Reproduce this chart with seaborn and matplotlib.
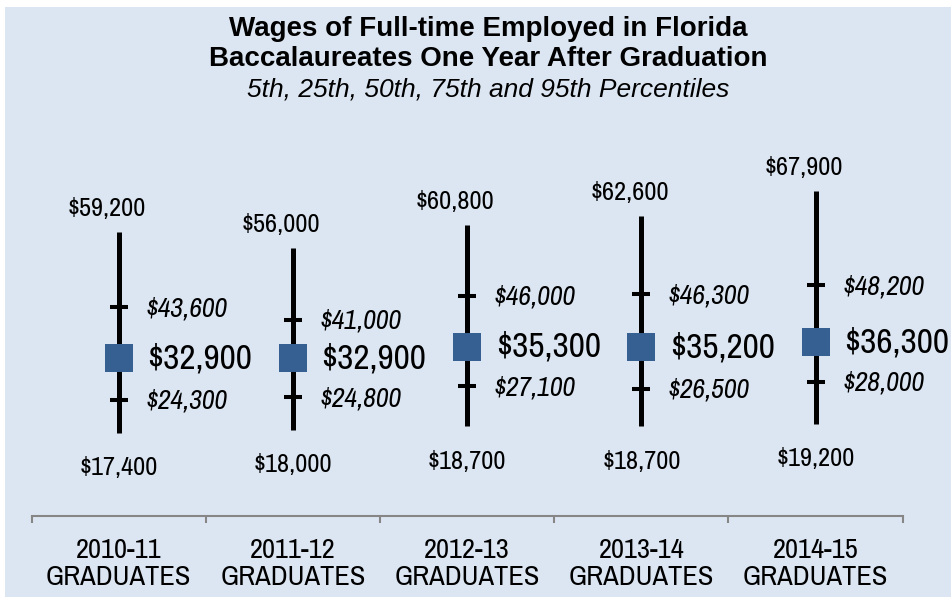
import pandas as pd
import seaborn as sns
import matplotlib.pyplot as plt
from matplotlib.patches import Rectangle

# wage percentiles by graduating cohort
cohorts = ["2010-11\nGRADUATES", "2011-12\nGRADUATES", "2012-13\nGRADUATES",
           "2013-14\nGRADUATES", "2014-15\nGRADUATES"]
p5 = [17400, 18000, 18700, 18700, 19200]
p25 = [24300, 24800, 27100, 26500, 28000]
p50 = [32900, 32900, 35300, 35200, 36300]
p75 = [43600, 41000, 46000, 46300, 48200]
p95 = [59200, 56000, 60800, 62600, 67900]

df = pd.DataFrame({"cohort": cohorts, "p5": p5, "p25": p25, "p50": p50,
                   "p75": p75, "p95": p95})

BG = "#dce6f2"
SQUARE = "#376092"
NARROW = ["Archivo Narrow", "PT Sans Narrow", "Liberation Sans"]

sns.set_theme(style="white")
plt.rcParams["font.family"] = ["Liberation Sans", "DejaVu Sans"]
plt.rcParams["text.color"] = "black"
plt.rcParams["xtick.color"] = "black"

fig = plt.figure(figsize=(9.51, 5.97), dpi=100, facecolor="white")
fig.patches.append(Rectangle((5 / 951, 0), 1, 1 - 7 / 597, transform=fig.transFigure,
                             facecolor=BG, edgecolor="none", zorder=-10))
ax = fig.add_axes([31.7 / 951, 81 / 597, 871 / 951, 479 / 597])
ax.set_facecolor("none")

pos = list(range(len(cohorts)))
# 5th-95th range as a thick line, quartile caps, median square
ax.vlines(pos, df["p5"], df["p95"], color="black", linewidth=3.6, zorder=2)
sns.scatterplot(data=df, x=pos, y="p75", marker="_", s=150, color="black",
                linewidth=2.9, ax=ax, zorder=3)
sns.scatterplot(data=df, x=pos, y="p25", marker="_", s=150, color="black",
                linewidth=2.9, ax=ax, zorder=3)
sns.scatterplot(data=df, x=pos, y="p50", marker="s", s=380, color=SQUARE,
                linewidth=0, ax=ax, zorder=4)

for i, r in df.iterrows():
    ax.annotate(f"${r.p95:,}", (i, r.p95), xytext=(-8.6, 17), textcoords="offset points",
                ha="center", va="center", fontsize=19, family=NARROW)
    ax.annotate(f"${r.p5:,}", (i, r.p5), xytext=(0, -25), textcoords="offset points",
                ha="center", va="center", fontsize=19, family=NARROW)
    ax.annotate(f"${r.p75:,}", (i, r.p75), xytext=(19, -1), textcoords="offset points",
                ha="left", va="center", fontsize=20, style="italic", family=NARROW)
    ax.annotate(f"${r.p25:,}", (i, r.p25), xytext=(19, -1), textcoords="offset points",
                ha="left", va="center", fontsize=20, style="italic", family=NARROW)
    ax.annotate(f"${r.p50:,}", (i, r.p50), xytext=(20.5, 0), textcoords="offset points",
                ha="left", va="center", fontsize=25.5, family=NARROW)

ax.set_xlim(-0.5, len(cohorts) - 0.5)
ax.set_ylim(0, 100000)
ax.set_yticks([])
ax.set_xticks(pos)
ax.set_xticklabels(cohorts, fontsize=20.5, family=NARROW, linespacing=1.1)
ax.set_xticks([p - 0.5 for p in range(len(cohorts) + 1)], minor=True)
ax.tick_params(axis="x", which="major", length=0, pad=16)
ax.tick_params(axis="x", which="minor", bottom=True, length=5, width=1.5, color="#868686")
for side in ["top", "right", "left"]:
    ax.spines[side].set_visible(False)
ax.spines["bottom"].set_color("#868686")
ax.spines["bottom"].set_linewidth(1.5)
ax.set_xlabel("")
ax.set_ylabel("")
if ax.get_legend():
    ax.get_legend().remove()

fig.text(0.513, 1 - 36 / 597, "Wages of Full-time Employed in Florida", ha="center",
         va="baseline", fontsize=20, weight="bold")
fig.text(0.513, 1 - 66 / 597, "Baccalaureates One Year After Graduation", ha="center",
         va="baseline", fontsize=20, weight="bold")
fig.text(0.513, 1 - 97 / 597, "5th, 25th, 50th, 75th and 95th Percentiles", ha="center",
         va="baseline", fontsize=19, style="italic")

fig.savefig("out.png", dpi=100, facecolor=fig.get_facecolor())
